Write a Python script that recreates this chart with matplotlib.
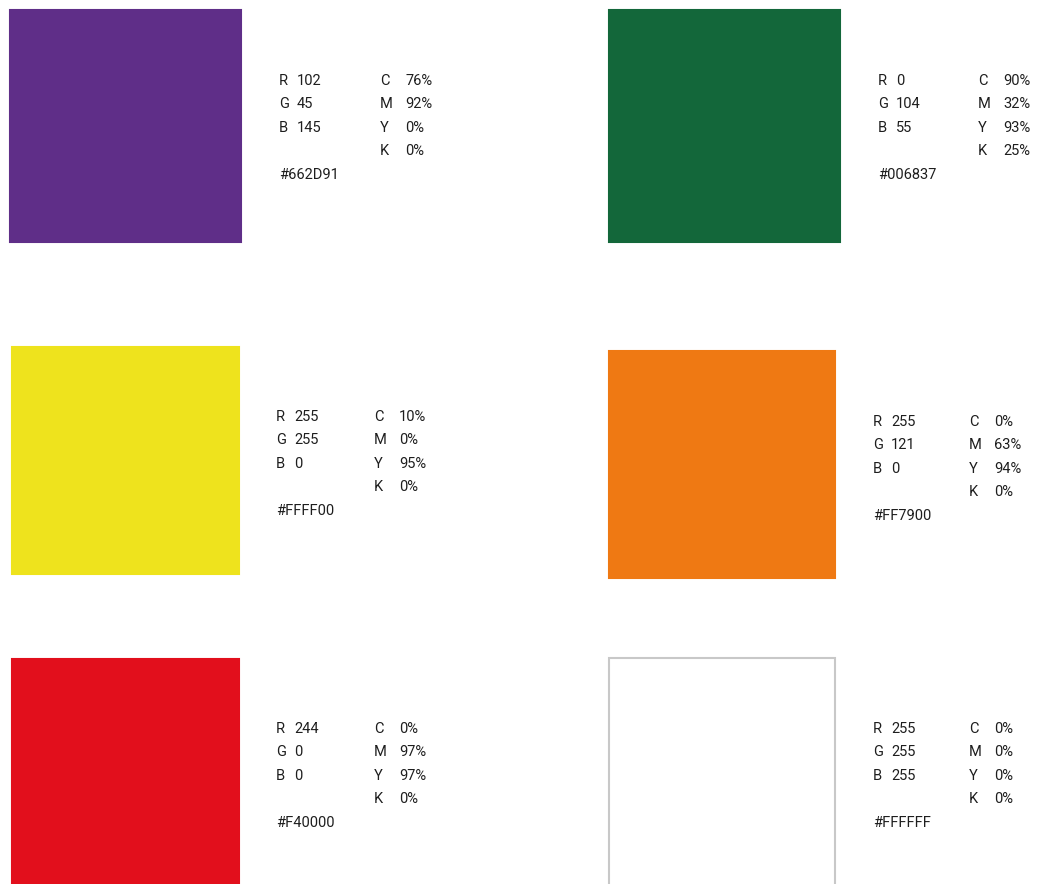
import matplotlib
matplotlib.use("Agg")
from matplotlib import pyplot as plt
from matplotlib.patches import Rectangle

plt.rcParams['font.family'] = ['Roboto', 'DejaVu Sans']

# colour data (as printed on the swatches)
rgb_vals = [(102, 45, 145), (0, 104, 55), (255, 255, 0),
            (255, 121, 0), (244, 0, 0), (255, 255, 255)]
cmyk_vals = [(76, 92, 0, 0), (90, 32, 93, 25), (10, 0, 95, 0),
             (0, 63, 94, 0), (0, 97, 97, 0), (0, 0, 0, 0)]
hex_codes = ['#662D91', '#006837', '#FFFF00', '#FF7900', '#F40000', '#FFFFFF']
# colour as it actually shows in the picture
shown = ['#5F2E88', '#13673A', '#EEE31D', '#EF7913', '#E20F1C', '#FFFFFF']

# layout: swatch box (x0, y0, x1, y1) and text anchors (rx, cx, y_first)
boxes = [(10, 10, 241, 242), (609, 10, 840, 242),
         (12, 347, 239, 574), (609, 351, 835, 578),
         (12, 659, 239, 890), (609, 658, 835, 890)]
anchors = [(279, 380, 81), (878, 978, 81),
           (276, 374, 417), (873, 969, 422),
           (276, 374, 729), (873, 969, 729)]
step = 23.4

fig = plt.figure(figsize=(10.52, 8.84), dpi=100)
ax = fig.add_axes([0, 0, 1, 1])
ax.set_xlim(0, 1052)
ax.set_ylim(884, 0)
ax.axis('off')

fs = 10.5
col = '#1e1e1e'
for i in range(6):
    x0, y0, x1, y1 = boxes[i]
    edge = '#c8c8c8' if shown[i] == '#FFFFFF' else shown[i]
    ax.add_patch(Rectangle((x0, y0), x1 - x0, y1 - y0, facecolor=shown[i],
                           edgecolor=edge, linewidth=1.5))
    rx, cx, yy = anchors[i]
    for j, (lab, v) in enumerate(zip('RGB', rgb_vals[i])):
        ax.text(rx, yy + j * step, lab, fontsize=fs, color=col, va='center', ha='left')
        ax.text(rx + 18, yy + j * step, str(v), fontsize=fs, color=col, va='center', ha='left')
    for j, (lab, v) in enumerate(zip('CMYK', cmyk_vals[i])):
        ax.text(cx, yy + j * step, lab, fontsize=fs, color=col, va='center', ha='left')
        ax.text(cx + 25, yy + j * step, f'{v}%', fontsize=fs, color=col, va='center', ha='left')
    ax.text(rx, yy + 4 * step, hex_codes[i], fontsize=fs, color=col, va='center', ha='left')

fig.savefig('out.png', dpi=100)
